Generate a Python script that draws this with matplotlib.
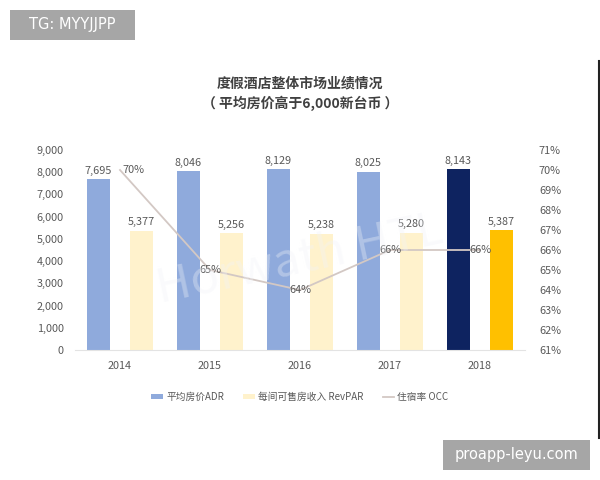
import matplotlib
matplotlib.use("Agg")
import matplotlib.pyplot as plt
from matplotlib.patches import Rectangle, Patch
from matplotlib.lines import Line2D
import numpy as np

plt.rcParams['font.family'] = ['Noto Sans CJK SC', 'DejaVu Sans']

years = ["2014", "2015", "2016", "2017", "2018"]
adr = [7695, 8046, 8129, 8025, 8143]
revpar = [5377, 5256, 5238, 5280, 5387]
occ = [70, 65, 64, 66, 66]
left_ticks = [0, 1000, 2000, 3000, 4000, 5000, 6000, 7000, 8000, 9000]
right_ticks = [61, 62, 63, 64, 65, 66, 67, 68, 69, 70, 71]

adr_colors = ["#8FAADC"] * 4 + ["#0E2360"]
rev_colors = ["#FFF2CC"] * 4 + ["#FFC000"]
line_color = "#D3C8C4"
txt = "#595959"

fig = plt.figure(figsize=(6, 4.8), dpi=100)
W, H = 600, 480
ax = fig.add_axes([75 / W, 1 - 350 / H, 450 / W, 200 / H])

x = np.arange(len(years))
off = 0.239
bw = 0.256
ax.bar(x - off, adr, bw, color=adr_colors, zorder=2)
ax.bar(x + off, revpar, bw, color=rev_colors, zorder=2)
for i in range(len(years)):
    ax.text(x[i] - off, adr[i] + 150, f"{adr[i]:,}", ha="center", va="bottom",
            fontsize=7.8, color=txt)
    ax.text(x[i] + off, revpar[i] + 150, f"{revpar[i]:,}", ha="center", va="bottom",
            fontsize=7.8, color=txt)

ax.set_xlim(-0.5, len(years) - 0.5)
ax.set_ylim(0, 9000)
ax.set_yticks(left_ticks)
ax.set_yticklabels([f"{v:,}" for v in left_ticks], fontsize=7.8, color=txt)
ax.set_xticks(x)
ax.set_xticklabels(years, fontsize=7.8, color=txt)
ax.tick_params(length=0, pad=8)
ax.tick_params(axis='y', pad=8)
for s in ["top", "right", "left"]:
    ax.spines[s].set_visible(False)
ax.spines["bottom"].set_color("#E3E3E3")

ax2 = ax.twinx()
ax2.set_ylim(61, 71)
ax2.plot(x, occ, color=line_color, linewidth=1.3, zorder=3)
ax2.set_yticks(right_ticks)
ax2.set_yticklabels([f"{v}%" for v in right_ticks], fontsize=7.8, color=txt)
ax2.tick_params(length=0, pad=10)
for s in ["top", "right", "left", "bottom"]:
    ax2.spines[s].set_visible(False)
for i in range(len(years)):
    if i == 0:
        ax2.text(x[i] + 0.03, occ[i], f"{occ[i]}%", ha="left", va="center",
                 fontsize=7.8, color=txt, zorder=4)
    else:
        ax2.text(x[i], occ[i], f"{occ[i]}%", ha="center", va="center",
                 fontsize=7.8, color=txt, zorder=4)

# faint watermark
fig.text(0.5, 0.46, "Horwath HTL", fontsize=34, color="#F1F3F8", alpha=0.35,
         rotation=12, ha="center", va="center", zorder=0)

fig.text(300 / W, 1 - 83 / H, "度假酒店整体市场业绩情况", ha="center", va="center",
         fontsize=10, fontweight="bold", color="#404040")
fig.text(300 / W, 1 - 103 / H, "（ 平均房价高于6,000新台币 ）", ha="center", va="center",
         fontsize=10, fontweight="bold", color="#404040")

handles = [Patch(facecolor="#8FAADC"), Patch(facecolor="#FFF2CC"),
           Line2D([0], [0], color=line_color, lw=1.3)]
labels = ["平均房价ADR", "每间可售房收入 RevPAR", "住宿率 OCC"]
fig.legend(handles, labels, loc="center", bbox_to_anchor=(300 / W, 1 - 397 / H),
           ncol=3, frameon=False, fontsize=7, labelcolor=txt,
           handlelength=1.2, handleheight=0.5, columnspacing=2.0, handletextpad=0.3)

# right border line
fig.add_artist(Line2D([598.5 / W, 598.5 / W], [1 - 61 / H, 1 - 438 / H],
                      color="#222222", lw=1.5))

# gray label boxes
fig.add_artist(Rectangle((10 / W, 1 - 40 / H), 125 / W, 30 / H,
                         facecolor="#A6A6A6", edgecolor="none"))
fig.text(72.5 / W, 1 - 25 / H, "TG: MYYJJPP", ha="center", va="center",
         fontsize=10.5, color="white", family=["DejaVu Sans"])
fig.add_artist(Rectangle((443 / W, 1 - 470 / H), 147 / W, 30 / H,
                         facecolor="#A6A6A6", edgecolor="none"))
fig.text(516.5 / W, 1 - 455 / H, "proapp-leyu.com", ha="center", va="center",
         fontsize=10.5, color="white", family=["DejaVu Sans"])

fig.savefig("out.png", dpi=100)
